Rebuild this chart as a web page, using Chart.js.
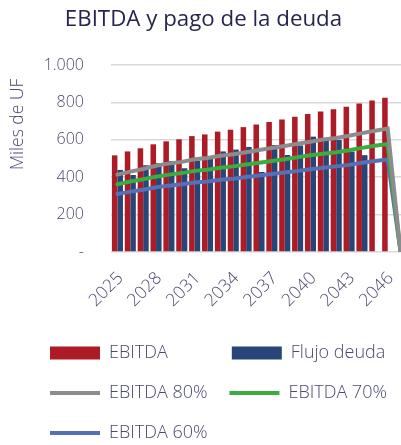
<!DOCTYPE html>
<html>
<head>
<meta charset="utf-8">
<script src="https://cdn.jsdelivr.net/npm/chart.js@4.4.1/dist/chart.umd.min.js"></script>
<style>
  html, body { margin: 0; padding: 0; background: #fff; overflow: hidden; }
  #wrap { width: 407px; height: 445px; }
</style>
</head>
<body>
<div id="wrap"><canvas id="ebitdaChart" width="407" height="445"></canvas></div>
<script>
// Años (categorías del eje X)
var years = ['2025', '2026', '2027', '2028', '2029', '2030', '2031', '2032', '2033', '2034', '2035', '2036',
             '2037', '2038', '2039', '2040', '2041', '2042', '2043', '2044', '2045', '2046', '2047'];

// Miles de UF
var ebitda = [517, 538, 555, 576, 592, 603, 620, 629, 644, 654, 668, 682,
              695, 709, 724, 738, 752, 763, 777, 795, 811, 825, 0];
var flujoDeuda = [439, 412, 464, 475, 487, 448, 488, 498, 538, 548, 562, 428,
                  572, 519, 570, 617, 597, 599, 537, 518, null, null, null];
var ebitda80 = [414, 430, 444, 461, 474, 482, 496, 503, 515, 523, 534, 546,
                556, 567, 579, 590, 602, 610, 622, 636, 649, 660, 0];
var ebitda70 = [362, 377, 389, 403, 414, 422, 434, 440, 451, 458, 468, 477,
                487, 496, 507, 517, 526, 534, 544, 557, 568, 578, 0];
var ebitda60 = [310, 323, 333, 346, 355, 362, 372, 377, 386, 392, 401, 409,
                417, 425, 434, 443, 451, 458, 466, 477, 487, 495, 0];

// Etiquetas del eje Y
var yTicks = [0, 200, 400, 600, 800, 1000];

var textColor = '#4a4a72';
var fontFamily = "'Open Sans', sans-serif";

// mueve la leyenda para que empiece a la izquierda como en Excel
var legendShift = {
    id: 'legendShift',
    afterLayout: function (chart) {
        chart.legend.left = 28;
        chart.legend.right = 440;
        chart.legend.top += 7;
        chart.legend.bottom += 7;
    }
};

document.addEventListener("DOMContentLoaded", function () {
    var ctx = document.getElementById('ebitdaChart').getContext('2d');

    var data = {
        labels: years,
        datasets: [{
            type: 'bar',
            label: 'EBITDA',
            data: ebitda,
            backgroundColor: '#ad1b27',
            pointStyle: 'rect',
            order: 1
        }, {
            type: 'bar',
            label: 'Flujo deuda',
            data: flujoDeuda,
            backgroundColor: '#274677',
            pointStyle: 'rect',
            order: 1
        }, {
            type: 'line',
            label: 'EBITDA 80%',
            data: ebitda80,
            borderColor: '#8c8c8c',
            backgroundColor: '#8c8c8c',
            borderWidth: 4,
            borderCapStyle: 'round',
            pointRadius: 0,
            pointStyle: 'line',
            order: 0
        }, {
            type: 'line',
            label: 'EBITDA 70%',
            data: ebitda70,
            borderColor: '#3dab3f',
            backgroundColor: '#3dab3f',
            borderWidth: 4,
            borderCapStyle: 'round',
            pointRadius: 0,
            pointStyle: 'line',
            order: 0
        }, {
            type: 'line',
            label: 'EBITDA 60%',
            data: ebitda60,
            borderColor: '#5670b5',
            backgroundColor: '#5670b5',
            borderWidth: 4,
            borderCapStyle: 'round',
            pointRadius: 0,
            pointStyle: 'line',
            order: 0
        }]
    };

    var options = {
        responsive: false,
        animation: false,
        maintainAspectRatio: false,
        layout: { padding: 0 },
        datasets: {
            bar: { categoryPercentage: 0.86, barPercentage: 1.0 }
        },
        plugins: {
            title: {
                display: true,
                text: 'EBITDA y pago de la deuda',
                color: '#25254f',
                font: { family: fontFamily, size: 22.3, weight: 'normal' },
                padding: { top: 6, bottom: 32.3 }
            },
            legend: {
                position: 'bottom',
                align: 'start',
                labels: {
                    color: textColor,
                    font: { family: fontFamily, size: 18, weight: 300 },
                    usePointStyle: true,
                    pointStyleWidth: 50,
                    boxHeight: 13,
                    padding: 22,
                    sort: function (a, b) { return a.datasetIndex - b.datasetIndex; },
                    generateLabels: function (chart) {
                        var items = Chart.defaults.plugins.legend.labels.generateLabels(chart);
                        // rellenar 'EBITDA' para alinear la segunda columna
                        var c = chart.ctx;
                        c.save();
                        c.font = '300 18px ' + fontFamily;
                        var target = c.measureText('EBITDA 80%').width;
                        items.forEach(function (it) {
                            if (it.text === 'EBITDA') {
                                while (c.measureText(it.text).width < target) it.text += ' ';
                            }
                        });
                        c.restore();
                        return items;
                    }
                }
            },
            tooltip: { enabled: false }
        },
        scales: {
            x: {
                grid: { display: false, drawTicks: false },
                border: { display: false },
                afterFit: function (scale) {
                    scale.paddingLeft = 0;
                    scale.paddingRight = 0;
                    scale.height = 63;
                },
                ticks: {
                    color: textColor,
                    font: { family: fontFamily, size: 17.5, weight: 300 },
                    autoSkip: false,
                    minRotation: 45,
                    maxRotation: 45,
                    padding: 16,
                    labelOffset: 3,
                    callback: function (value, index) {
                        return index % 3 === 0 ? years[index] : '';
                    }
                }
            },
            y: {
                min: 0,
                max: 1000,
                afterBuildTicks: function (axis) {
                    axis.ticks = yTicks.map(function (v) { return { value: v }; });
                },
                afterFit: function (scale) {
                    scale.width = 111;
                },
                grid: { color: '#d9d9d9', lineWidth: 1.5, drawTicks: false },
                border: { display: false },
                ticks: {
                    color: textColor,
                    font: { family: fontFamily, size: 16, weight: 300 },
                    padding: 27,
                    callback: function (value) {
                        if (value === 0) return '-';
                        return String(value).replace(/\B(?=(\d{3})+(?!\d))/g, '.');
                    }
                },
                title: {
                    display: true,
                    text: 'Miles de UF   ',
                    align: 'end',
                    color: textColor,
                    font: { family: fontFamily, size: 17.5, weight: 300 },
                    padding: { top: 8, bottom: 14 }
                }
            }
        }
    };

    var ebitdaChart = new Chart(ctx, {
        type: 'bar',
        data: data,
        options: options,
        plugins: [legendShift]
    });
});
</script>
</body>
</html>
